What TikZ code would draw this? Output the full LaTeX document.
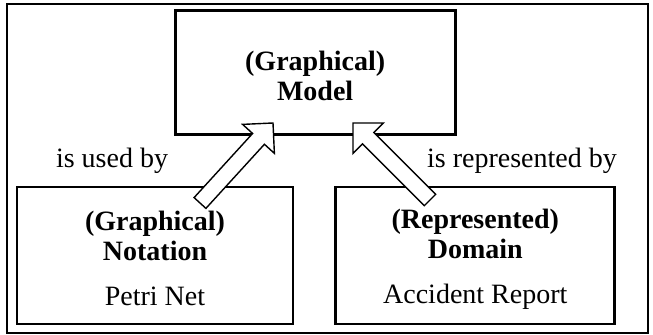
\documentclass[tikz,border=0pt]{standalone}
\usepackage{fontspec}
\setmainfont{Liberation Serif}
\usetikzlibrary{calc,positioning}

\begin{document}
\begin{tikzpicture}[x=0.5pt, y=-0.5pt, font=\fontsize{14pt}{15pt}\selectfont]
    % Define styles
    \tikzstyle{frame} = [line width=1pt]
    \tikzstyle{box} = [rectangle, draw, line width=1.4pt, align=center, minimum height=68.5pt]
    \tikzstyle{modelbox} = [box, minimum width=140pt, minimum height=62pt]
    \tikzstyle{relation} = [anchor=base]
    \tikzstyle{blockarrow} = [draw, fill=white, line width=0.7pt, line join=miter]

    \useasboundingbox (0,0) rectangle (653,335);
    \draw [frame] (7,4) rectangle (648,333);

    % Boxes
    \node [box, minimum width=138pt] (notation) at (155,255.5)
        {\rule{0pt}{13pt}\textbf{(Graphical)}\\\textbf{Notation}\\[7.5pt]Petri Net};
    \node [box, minimum width=139.5pt, right=20pt of notation] (domain)
        {\rule{0pt}{13pt}\textbf{(Represented)}\\\textbf{Domain}\\[7.5pt]Accident Report};
    \coordinate (mid) at ($(notation.north)!0.5!(domain.north)$);
    \node [modelbox, above=25pt of mid] (model)
        {\rule{0pt}{13pt}\textbf{(Graphical)}\\\textbf{Model}};

    % Labels
    \node [relation] (usedlabel) at (112,168) {is used by};
    \node [relation] (reprlabel) at (522,168) {is represented by};

    % Block arrows
    \coordinate (usedtail) at (200,203);
    \coordinate (usedtip) at (273,123);
    \coordinate (reprtail) at (430,200);
    \coordinate (reprtip) at (353,123);
    \foreach \a in {used,repr} {
        \coordinate (\a base) at ($(\a tip)!10.75pt!(\a tail)$);
        \draw [blockarrow] ($(\a tail)!4pt!90:(\a tip)$)
            -- ($(\a base)!4pt!90:(\a tip)$)
            -- ($(\a base)!10.75pt!90:(\a tip)$)
            -- (\a tip)
            -- ($(\a base)!10.75pt!-90:(\a tip)$)
            -- ($(\a base)!4pt!-90:(\a tip)$)
            -- ($(\a tail)!4pt!-90:(\a tip)$)
            -- cycle;
    }
\end{tikzpicture}
\end{document}
